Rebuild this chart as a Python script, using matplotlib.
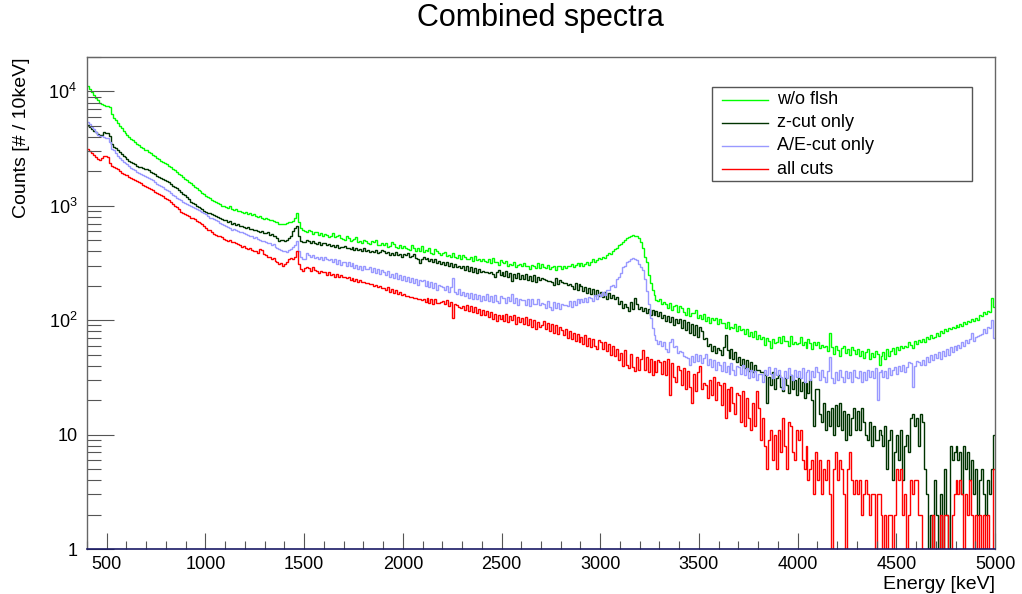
import numpy as np
import matplotlib
matplotlib.use("Agg")
import matplotlib.pyplot as plt
from matplotlib.lines import Line2D
from matplotlib.patches import Rectangle
from matplotlib.ticker import MultipleLocator, LogLocator, FuncFormatter

plt.rcParams["font.family"] = ["Liberation Sans", "DejaVu Sans"]
plt.rcParams["mathtext.default"] = "regular"

# 10 keV bins from 400 to 5000 keV
bin_edges = np.arange(400, 5001, 10)

labels = ["w/o flsh", "z-cut only", "A/E-cut only", "all cuts"]
colors = ["#00ff00", "#003300", "#9999ff", "#ff0000"]

wo_flsh = [
    11200, 10500, 9900, 9300, 8800, 8400, 8000, 7800, 7600, 7500,
    7400, 7300, 6400, 5900, 5600, 5300, 5000, 4750, 4550, 4350,
    4150, 4000, 3850, 3750, 3600, 3500, 3400, 3300, 3200, 3100,
    3050, 2950, 2880, 2800, 2700, 2620, 2560, 2480, 2420, 2350,
    2300, 2230, 2180, 2100, 2050, 1980, 1900, 1850, 1780, 1720,
    1680, 1620, 1580, 1520, 1460, 1430, 1380, 1340, 1300, 1260,
    1230, 1190, 1170, 1120, 1110, 1070, 1050, 1030, 1000, 995,
    980, 960, 990, 940, 925, 930, 900, 905, 885, 870,
    880, 850, 860, 830, 845, 810, 800, 815, 790, 770,
    780, 760, 745, 750, 730, 715, 720, 700, 690, 695,
    700, 705, 715, 720, 740, 780, 860, 720, 640, 610,
    605, 590, 620, 600, 570, 585, 595, 560, 575, 550,
    570, 560, 535, 550, 575, 530, 540, 555, 520, 515,
    505, 545, 525, 490, 500, 515, 535, 480, 495, 470,
    500, 490, 470, 465, 495, 480, 505, 455, 450, 475,
    455, 470, 440, 445, 485, 460, 440, 430, 455, 425,
    445, 430, 420, 415, 450, 425, 405, 430, 400, 445,
    395, 410, 405, 430, 390, 380, 420, 400, 390, 370,
    385, 395, 365, 370, 360, 385, 355, 350, 375, 345,
    370, 355, 340, 345, 355, 330, 365, 335, 340, 330,
    345, 330, 320, 340, 315, 350, 325, 320, 305, 335,
    325, 315, 330, 300, 310, 305, 325, 290, 305, 310,
    295, 315, 300, 295, 280, 305, 300, 285, 315, 285,
    310, 290, 285, 305, 280, 290, 300, 275, 295, 295,
    280, 300, 285, 295, 295, 310, 290, 305, 315, 295,
    315, 300, 310, 325, 305, 320, 340, 320, 335, 350,
    340, 355, 350, 370, 385, 380, 400, 420, 430, 450,
    460, 480, 500, 520, 530, 545, 555, 540, 550, 525,
    480, 430, 360, 320, 250, 210, 185, 165, 150, 148,
    152, 138, 145, 140, 128, 142, 122, 132, 136, 118,
    132, 128, 118, 112, 127, 108, 116, 115, 124, 104,
    112, 103, 114, 99, 106, 94, 105, 100, 104, 93,
    102, 94, 95, 86, 96, 84, 88, 86, 93, 80,
    89, 82, 83, 76, 84, 73, 79, 71, 80, 68,
    75, 68, 71, 61, 70, 66, 57, 69, 63, 64,
    71, 63, 73, 66, 66, 59, 73, 62, 65, 62,
    63, 71, 61, 65, 57, 69, 63, 56, 65, 61,
    64, 57, 61, 58, 59, 54, 78, 58, 51, 60,
    55, 49, 57, 59, 52, 56, 50, 58, 55, 51,
    56, 49, 54, 47, 53, 56, 46, 52, 48, 54,
    51, 41, 49, 53, 46, 56, 49, 54, 57, 51,
    58, 55, 60, 57, 60, 58, 64, 61, 57, 66,
    62, 67, 65, 69, 64, 72, 69, 74, 70, 72,
    78, 73, 80, 77, 83, 80, 85, 83, 88, 85,
    90, 87, 93, 89, 96, 93, 99, 96, 103, 99,
    105, 101, 111, 108, 117, 113, 121, 118, 155, 130,
]

z_cut = [
    5100, 4900, 4700, 4550, 4400, 4250, 4150, 4200, 4400, 4350,
    4300, 4050, 3500, 3300, 3200, 3050, 2950, 2850, 2750, 2650,
    2550, 2480, 2420, 2380, 2300, 2250, 2200, 2180, 2150, 2100,
    2080, 2050, 1980, 1950, 1880, 1820, 1780, 1750, 1700, 1680,
    1650, 1600, 1560, 1500, 1460, 1420, 1380, 1330, 1280, 1240,
    1200, 1150, 1080, 1060, 1030, 1000, 980, 950, 930, 910,
    890, 870, 860, 840, 830, 810, 800, 780, 770, 750,
    745, 725, 730, 700, 710, 685, 690, 665, 670, 650,
    640, 650, 625, 630, 610, 620, 600, 595, 605, 580,
    575, 585, 560, 565, 550, 540, 520, 495, 505, 500,
    490, 500, 520, 545, 600, 640, 670, 540, 490, 480,
    480, 500, 490, 470, 490, 470, 465, 480, 455, 470,
    470, 455, 465, 445, 450, 440, 455, 430, 440, 435,
    445, 425, 430, 420, 435, 410, 425, 415, 420, 405,
    425, 400, 415, 395, 405, 395, 410, 385, 395, 410,
    400, 385, 395, 375, 390, 370, 395, 370, 380, 360,
    380, 370, 385, 355, 365, 380, 350, 345, 315, 345,
    355, 340, 350, 330, 345, 320, 340, 315, 330, 310,
    325, 305, 320, 300, 315, 290, 310, 290, 300, 285,
    300, 275, 295, 270, 290, 265, 285, 260, 280, 265,
    270, 265, 265, 258, 262, 255, 240, 265, 275, 248,
    265, 245, 268, 240, 258, 222, 255, 235, 258, 230,
    250, 230, 255, 225, 245, 220, 250, 215, 240, 225,
    232, 228, 226, 222, 222, 215, 203, 236, 208, 226,
    216, 212, 212, 205, 207, 200, 188, 212, 184, 206,
    200, 180, 196, 174, 192, 168, 188, 165, 182, 162,
    176, 158, 178, 154, 172, 156, 166, 154, 158, 140,
    148, 128, 140, 130, 120, 145, 125, 155, 140, 125,
    130, 120, 128, 115, 125, 112, 122, 110, 120, 108,
    118, 105, 112, 98, 108, 96, 106, 90, 102, 95,
    102, 86, 100, 82, 96, 78, 92, 74, 90, 72,
    88, 80, 68, 70, 60, 62, 54, 60, 52, 57,
    55, 50, 58, 74, 55, 47, 56, 46, 53, 43,
    48, 41, 46, 38, 45, 36, 43, 35, 41, 37,
    37, 35, 35, 33, 19, 32, 27, 35, 25, 31,
    33, 26, 24, 31, 27, 23, 33, 25, 30, 22,
    31, 24, 29, 21, 28, 23, 30, 20, 12, 25,
    25, 15, 13, 19, 11, 16, 12, 17, 10, 18,
    12, 19, 11, 16, 9, 15, 10, 14, 17, 11,
    16, 11, 17, 13, 10, 9, 13, 8, 12, 9,
    9, 11, 10, 8, 12, 5, 9, 11, 4, 7,
    10, 6, 11, 4, 8, 10, 7, 14, 15, 12,
    14, 8, 15, 13, 5, 3, 1, 2, 0, 4,
    2, 0, 3, 1, 5, 2, 0, 8, 6, 7,
    8, 6, 7, 3, 8, 5, 7, 4, 6, 3,
    5, 2, 4, 5, 3, 2, 4, 3, 5, 10,
]

ae_cut = [
    5450, 5200, 4900, 4700, 4450, 4200, 4100, 4050, 4000, 3950,
    3900, 3600, 3150, 3050, 2900, 2750, 2600, 2500, 2400, 2350,
    2300, 2250, 2150, 2100, 2050, 1980, 1950, 1900, 1850, 1820,
    1800, 1760, 1720, 1680, 1620, 1560, 1520, 1480, 1450, 1400,
    1370, 1340, 1300, 1250, 1220, 1180, 1150, 1120, 1090, 1060,
    1040, 1010, 990, 970, 950, 940, 920, 900, 880, 860,
    840, 810, 790, 780, 760, 750, 730, 710, 695, 680,
    670, 650, 640, 620, 630, 610, 605, 590, 595, 575,
    565, 560, 550, 540, 525, 530, 510, 505, 495, 490,
    480, 470, 475, 455, 460, 440, 430, 420, 410, 405,
    400, 395, 410, 420, 440, 450, 490, 400, 360, 345,
    345, 385, 370, 360, 375, 350, 360, 340, 355, 335,
    355, 340, 335, 345, 325, 340, 310, 335, 305, 320,
    320, 300, 325, 295, 315, 285, 305, 280, 300, 275,
    295, 280, 280, 290, 265, 285, 260, 280, 255, 275,
    265, 250, 270, 240, 255, 235, 260, 230, 250, 225,
    245, 220, 240, 215, 235, 210, 230, 205, 225, 220,
    225, 200, 220, 195, 215, 190, 210, 185, 205, 198,
    195, 182, 200, 176, 195, 232, 175, 170, 188, 165,
    178, 162, 174, 156, 172, 152, 168, 153, 166, 147,
    164, 151, 168, 146, 162, 144, 166, 148, 141, 162,
    155, 155, 142, 158, 148, 168, 142, 155, 136, 152,
    150, 150, 137, 154, 134, 152, 138, 140, 154, 135,
    142, 140, 127, 146, 131, 124, 144, 128, 141, 125,
    139, 135, 137, 133, 146, 131, 148, 137, 152, 142,
    154, 143, 157, 145, 160, 156, 148, 165, 153, 168,
    162, 178, 167, 183, 182, 198, 205, 197, 228, 237,
    260, 290, 300, 320, 330, 345, 350, 340, 335, 310,
    290, 275, 230, 180, 140, 105, 85, 75, 67, 62,
    66, 59, 64, 56, 53, 64, 68, 58, 59, 52,
    54, 53, 49, 48, 47, 41, 49, 43, 51, 44,
    50, 42, 47, 51, 41, 46, 39, 45, 37, 43,
    41, 36, 43, 35, 40, 34, 42, 37, 33, 40,
    39, 34, 41, 33, 38, 31, 37, 32, 36, 30,
    34, 34, 29, 37, 33, 39, 34, 31, 38, 33,
    37, 32, 25, 36, 31, 38, 33, 30, 37, 32,
    36, 31, 38, 29, 35, 37, 30, 36, 32, 39,
    35, 30, 37, 32, 29, 36, 48, 31, 28, 35,
    30, 37, 32, 29, 36, 31, 35, 29, 37, 32,
    31, 36, 29, 35, 30, 37, 32, 36, 31, 38,
    20, 35, 37, 32, 36, 31, 38, 33, 37, 39,
    34, 40, 36, 41, 35, 39, 43, 42, 26, 40,
    44, 43, 41, 45, 41, 48, 43, 50, 45, 51,
    47, 53, 46, 54, 49, 56, 50, 58, 53, 59,
    55, 61, 57, 64, 59, 67, 63, 68, 78, 66,
    72, 73, 74, 76, 84, 78, 88, 86, 100, 70,
]

all_cuts = [
    3150, 3000, 2900, 2780, 2650, 2550, 2500, 2600, 2750, 2700,
    2650, 2350, 2250, 2200, 2150, 2080, 2000, 1950, 1900, 1870,
    1850, 1800, 1760, 1720, 1680, 1650, 1600, 1570, 1530, 1500,
    1470, 1440, 1400, 1370, 1330, 1300, 1270, 1240, 1210, 1180,
    1150, 1120, 1080, 1030, 1000, 970, 930, 890, 870, 850,
    830, 810, 790, 780, 760, 740, 720, 710, 690, 660,
    640, 620, 610, 590, 570, 560, 550, 540, 530, 515,
    505, 495, 500, 485, 480, 470, 460, 450, 440, 445,
    430, 420, 425, 410, 400, 405, 390, 420, 410, 380,
    370, 360, 355, 340, 350, 330, 320, 310, 315, 300,
    310, 320, 340, 350, 345, 360, 400, 310, 280, 270,
    285, 290, 288, 270, 292, 275, 272, 258, 270, 262,
    262, 250, 262, 248, 255, 240, 252, 238, 246, 240,
    240, 232, 240, 226, 236, 220, 230, 215, 225, 218,
    214, 210, 212, 206, 206, 200, 205, 196, 200, 192,
    192, 182, 196, 178, 188, 172, 182, 168, 178, 166,
    170, 162, 164, 160, 158, 155, 156, 152, 153, 150,
    152, 145, 155, 142, 152, 140, 152, 142, 142, 144,
    148, 138, 150, 134, 145, 104, 138, 135, 130, 128,
    132, 124, 136, 120, 132, 118, 130, 115, 126, 112,
    122, 110, 120, 106, 117, 103, 114, 99, 112, 102,
    110, 99, 113, 97, 108, 100, 112, 93, 106, 96,
    104, 93, 107, 90, 102, 88, 100, 84, 97, 88,
    90, 99, 83, 95, 80, 92, 78, 90, 76, 87,
    82, 74, 84, 70, 80, 68, 77, 66, 76, 64,
    72, 62, 74, 60, 70, 58, 68, 60, 56, 67,
    65, 56, 64, 54, 62, 50, 59, 49, 56, 45,
    52, 40, 55, 41, 38, 51, 39, 36, 48, 37,
    46, 55, 37, 48, 35, 46, 33, 44, 35, 45,
    43, 34, 44, 33, 46, 22, 42, 32, 29, 40,
    37, 27, 38, 25, 36, 26, 19, 34, 24, 35,
    40, 25, 28, 27, 21, 30, 22, 32, 20, 29,
    27, 18, 28, 14, 25, 16, 26, 19, 15, 23,
    22, 13, 24, 12, 21, 14, 11, 19, 12, 24,
    17, 9, 14, 8, 5, 9, 11, 6, 10, 5,
    11, 7, 14, 8, 5, 13, 12, 7, 6, 11,
    9, 11, 6, 5, 8, 4, 5, 6, 3, 7,
    4, 6, 3, 5, 4, 6, 3, 0, 5, 7,
    4, 6, 5, 3, 0, 5, 7, 4, 3, 4,
    3, 4, 2, 3, 4, 3, 2, 3, 3, 0,
    3, 3, 2, 0, 2, 1, 2, 2, 1, 2,
    5, 4, 5, 2, 3, 1, 2, 4, 3, 4,
    4, 2, 2, 1, 0, 1, 0, 1, 2, 1,
    1, 0, 2, 1, 2, 2, 0, 1, 2, 3,
    4, 3, 4, 3, 1, 3, 2, 4, 2, 1,
    2, 1, 2, 0, 2, 1, 2, 0, 1, 5,
]

series = [wo_flsh, z_cut, ae_cut, all_cuts]

W, H = 1022, 594


def fx(px):
    return px / W


def fy(py):
    return 1 - py / H


fig = plt.figure(figsize=(W / 100, H / 100), dpi=100)
ax = fig.add_axes([fx(87), fy(549), 908 / W, 492 / H])

for vals, col in zip(series, colors):
    ax.stairs(vals, bin_edges, baseline=None, color=col, lw=1.0)

ax.set_yscale("log", nonpositive="clip")
ax.set_xlim(400, 5000)
ax.set_ylim(1, 2.0e4)

ax.xaxis.set_major_locator(MultipleLocator(500))
ax.xaxis.set_minor_locator(MultipleLocator(100))
ax.yaxis.set_major_locator(LogLocator(base=10, numticks=10))
ax.yaxis.set_minor_locator(LogLocator(base=10, subs=np.arange(2, 10), numticks=20))


def ylabel_fmt(v, pos):
    if v == 1:
        return "1"
    if v == 10:
        return "10"
    return "$10^{%d}$" % round(np.log10(v))


ax.yaxis.set_major_formatter(FuncFormatter(ylabel_fmt))

ax.tick_params(axis="both", which="both", direction="in", top=False, right=False,
               colors="#555555", labelcolor="black", width=0.8)
ax.tick_params(axis="x", which="major", length=11.5, labelsize=13, pad=5)
ax.tick_params(axis="x", which="minor", length=5.8)
ax.tick_params(axis="y", which="major", length=19.5, labelsize=13, pad=7)
ax.tick_params(axis="y", which="minor", length=10)

for side in ["top", "right", "left"]:
    ax.spines[side].set_color("#666666")
    ax.spines[side].set_linewidth(1.0)
ax.spines["bottom"].set_color("#1a1a66")
ax.spines["bottom"].set_linewidth(1.2)

ax.set_xlabel("Energy [keV]", loc="right", fontsize=14, labelpad=2)
ax.set_ylabel("Counts [# / 10keV]", loc="top", fontsize=14, labelpad=13)

fig.text(fx(540), fy(18), "Combined spectra", ha="center", va="center", fontsize=22)

# legend box drawn by hand, ROOT style
fig.patches.append(Rectangle((fx(712), fy(181)), 260 / W, 94 / H, transform=fig.transFigure,
                             facecolor="white", edgecolor="#555555", lw=1.0, zorder=5))
row_y = [99.5, 122.5, 145.5, 169]
for lab, col, ry in zip(labels, colors, row_y):
    fig.lines.append(Line2D([fx(722), fx(768)], [fy(ry), fy(ry)], color=col, lw=1.0,
                            transform=fig.transFigure, zorder=6))
    fig.text(fx(777), fy(ry), lab, ha="left", va="center", fontsize=13, zorder=6)

fig.savefig("out.png", dpi=100)
